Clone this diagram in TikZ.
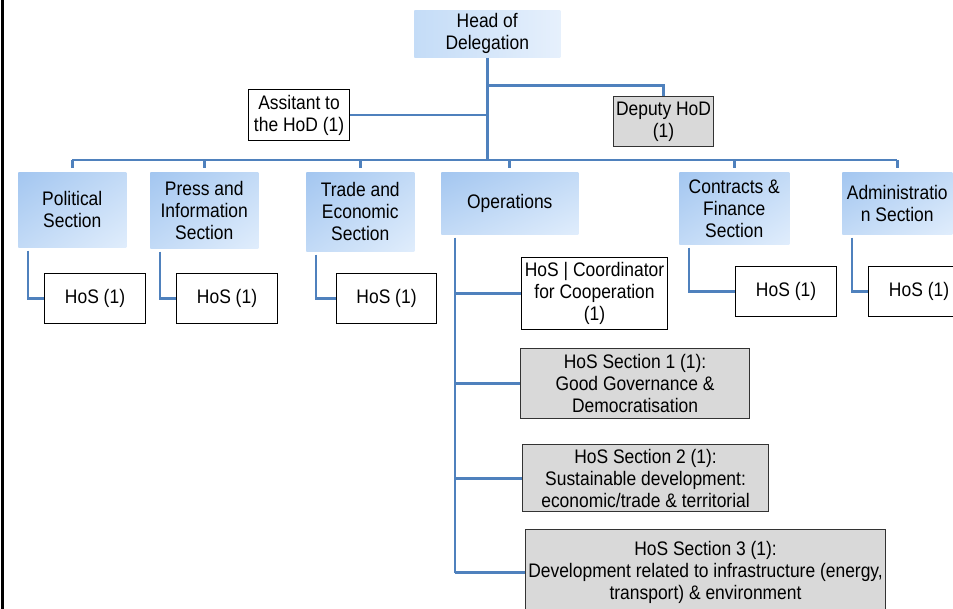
\documentclass[tikz,border=0pt]{standalone}
\usepackage{fontspec}
\setmainfont{Liberation Sans}[FakeStretch=0.89]
\usetikzlibrary{calc}
\usetikzlibrary{shadings}
\definecolor{secdark}{HTML}{A3C6F0}
\definecolor{secmid}{HTML}{C2DAF6}
\definecolor{seclight}{HTML}{E0EDFC}
\definecolor{hoddark}{HTML}{C4DCF7}
\definecolor{hodlight}{HTML}{E6F0FC}
\definecolor{linkblue}{HTML}{4F81BD}
\definecolor{boxgray}{HTML}{D9D9D9}
\tikzset{
 sz/.style 2 args={minimum width=#1*0.75pt, minimum height=#2*0.75pt},
 base/.style={anchor=north west, align=center, inner sep=1pt, font=\fontsize{14.7}{16.5}\selectfont},
 secbox/.style={base, upper left=secdark, upper right=secmid, lower left=secmid, lower right=seclight},
 hodbox/.style={base, upper left=hoddark, upper right=hodlight, lower left=hoddark, lower right=hodlight},
 whitebox/.style={base, draw=black, fill=white, line width=0.8pt},
 graybox/.style={base, draw=black!80, fill=boxgray, line width=0.8pt},
 link/.style={draw=linkblue, line width=2.2pt}
}

\begin{document}
\begin{tikzpicture}[x=0.75pt, y=-0.75pt]
\useasboundingbox (0,0) rectangle (953,609);
\clip (0,0) rectangle (953,609);
\draw[black, line width=2.4pt] (2.5,0)--(2.5,609);

\node[hodbox, sz={146}{47}] (hod) at (414,10) {Head of\\Delegation};
\node[whitebox, sz={101}{51}] (asst) at (248,89) {Assitant to\\the HoD (1)};
\node[graybox, sz={100}{50}] (dep) at (613,96) {Deputy HoD\\(1)};

\node[secbox, sz={108}{75}] (pol) at (18,172) {Political\\Section};
\node[secbox, sz={108}{76}] (press) at (150,172) {Press and\\Information\\Section};
\node[secbox, sz={108}{79}] (trade) at (306,172) {Trade and\\Economic\\Section};
\node[secbox, sz={137}{62}] (ops) at (441,172) {Operations};
\node[secbox, sz={110}{72}] (contr) at (679,172) {Contracts \&\\Finance\\Section};
\node[secbox, sz={110}{62}] (admin) at (842,172) {Administratio\\n Section};

\node[whitebox, sz={101}{50}] (polhos) at (44,273) {HoS (1)};
\node[whitebox, sz={101}{50}] (presshos) at (176,273) {HoS (1)};
\node[whitebox, sz={100}{50}] (tradehos) at (336,273) {HoS (1)};
\node[whitebox, sz={101}{50}] (contrhos) at (735,266) {HoS (1)};
\node[whitebox, sz={101}{50}] (adminhos) at (868,266) {HoS (1)};

\node[whitebox, sz={146}{72}] (coord) at (521,257) {HoS | Coordinator\\for Cooperation\\(1)};
\node[graybox, sz={229}{70}] (sec1) at (520,348) {HoS Section 1 (1):\\Good Governance \&\\Democratisation};
\node[graybox, sz={246}{67}] (sec2) at (522,444) {HoS Section 2 (1):\\Sustainable development:\\economic/trade \& territorial};
\node[graybox, sz={360}{86}] (sec3) at (525,529) {HoS Section 3 (1):\\Development related to infrastructure (energy,\\transport) \& environment};

\coordinate (busL) at (72,160);
\coordinate (busR) at (897,160);
\draw[link] (hod.south) -- (hod.south |- busL);
\draw[link] (busL) -- (busR);
\draw[link] (asst.east) -- (asst.east -| hod.south);
\draw[link] ($(hod.south)+(0,28)$) -| (dep.north);
\foreach \n in {pol,press,trade,ops,contr,admin} {
 \draw[link, shorten >=3pt] (\n.north |- busL) -- (\n.north);
}
\foreach \n/\m in {pol/polhos,press/presshos,trade/tradehos,contr/contrhos,admin/adminhos} {
 \draw[link] ($(\n.south west)+(10,3)$) |- (\m.west);
}
\coordinate (opsx) at ($(ops.south west)+(14,3)$);
\draw[link] (opsx) -- (opsx |- sec3.west);
\foreach \n in {coord,sec1,sec2,sec3} {
 \draw[link] (opsx |- \n.west) -- (\n.west);
}
\end{tikzpicture}
\end{document}
